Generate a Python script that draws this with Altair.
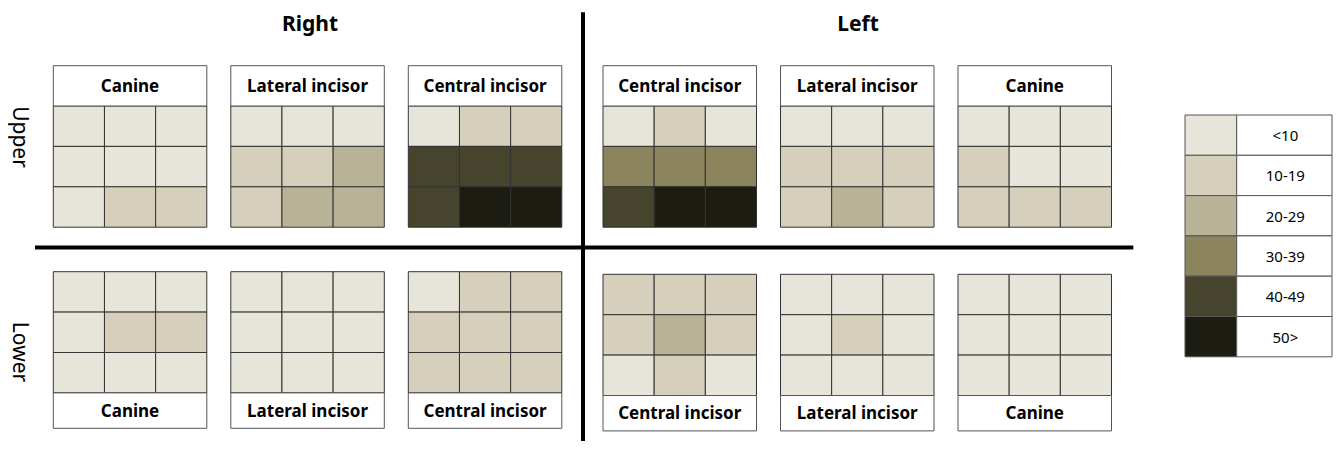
import altair as alt
import pandas as pd

# ---- data ----
classes = ["<10", "10-19", "20-29", "30-39", "40-49", "50>"]
colors = ["#E7E5D9", "#D5CFBC", "#B8B396", "#8C845C", "#46442C", "#1C1C12"]

sides = ["Right", "Left"]
jaws = ["Upper", "Lower"]
teeth_right = ["Canine", "Lateral incisor", "Central incisor"]
teeth_left = ["Central incisor", "Lateral incisor", "Canine"]

# class index for each 3x3 grid (rows top->bottom)
upper_right_canine = [[0, 0, 0], [0, 0, 0], [0, 1, 1]]
upper_right_lateral = [[0, 0, 0], [1, 1, 2], [1, 2, 2]]
upper_right_central = [[0, 1, 1], [4, 4, 4], [4, 5, 5]]
upper_left_central = [[0, 1, 0], [3, 3, 3], [4, 5, 5]]
upper_left_lateral = [[0, 0, 0], [1, 1, 1], [1, 2, 1]]
upper_left_canine = [[0, 0, 0], [1, 0, 0], [1, 1, 1]]
lower_right_canine = [[0, 0, 0], [0, 1, 1], [0, 0, 0]]
lower_right_lateral = [[0, 0, 0], [0, 0, 0], [0, 0, 0]]
lower_right_central = [[0, 1, 1], [1, 1, 1], [1, 1, 1]]
lower_left_central = [[1, 1, 1], [1, 2, 1], [0, 1, 0]]
lower_left_lateral = [[0, 0, 0], [0, 1, 0], [0, 0, 0]]
lower_left_canine = [[0, 0, 0], [0, 0, 0], [0, 0, 0]]

grids = {
    ("Upper", "Right"): [upper_right_canine, upper_right_lateral, upper_right_central],
    ("Upper", "Left"): [upper_left_central, upper_left_lateral, upper_left_canine],
    ("Lower", "Right"): [lower_right_canine, lower_right_lateral, lower_right_central],
    ("Lower", "Left"): [lower_left_central, lower_left_lateral, lower_left_canine],
}
names = {"Right": teeth_right, "Left": teeth_left}

# ---- layout (page pixel coordinates) ----
W, H = 1325, 433
group_x = {"Right": 53.3, "Left": 603}
pstep, pw = 177.5, 153.5
cw = pw / 3
ch = 40.4
lab_h = {"Upper": 40.3, "Lower": 35.4}
grid_top = {("Upper", "Right"): 106, ("Upper", "Left"): 106,
            ("Lower", "Right"): 271.7, ("Lower", "Left"): 274.3}

cells, labels = [], []
for jaw in jaws:
    for side in sides:
        for i, g in enumerate(grids[(jaw, side)]):
            x0 = group_x[side] + i * pstep
            y0 = grid_top[(jaw, side)]
            for r in range(3):
                for c in range(3):
                    cells.append(dict(x=x0 + c * cw, x2=x0 + (c + 1) * cw,
                                      y=y0 + r * ch, y2=y0 + (r + 1) * ch,
                                      cls=classes[g[r][c]]))
            if jaw == "Upper":
                ly, ly2 = y0 - lab_h[jaw], y0
            else:
                ly, ly2 = y0 + 3 * ch, y0 + 3 * ch + lab_h[jaw]
            labels.append(dict(x=x0, x2=x0 + pw, y=ly, y2=ly2,
                               xc=x0 + pw / 2, yc=(ly + ly2) / 2 + 1,
                               name=names[side][i]))
cells = pd.DataFrame(cells)
labels = pd.DataFrame(labels)

leg_x0, leg_x1, leg_x2 = 1185, 1236.7, 1332
leg_y0, leg_h = 115, 40.3
legend = pd.DataFrame([dict(x=leg_x0, x2=leg_x1, lx=leg_x1, lx2=leg_x2,
                            y=leg_y0 + k * leg_h, y2=leg_y0 + (k + 1) * leg_h,
                            yc=leg_y0 + (k + 0.5) * leg_h + 1, xc=(leg_x1 + leg_x2) / 2 + 1,
                            cls=cl) for k, cl in enumerate(classes)])

titles = pd.DataFrame([dict(x=310, y=25, t="Right"), dict(x=858, y=25, t="Left")])
jawlab = pd.DataFrame([dict(x=8.5, y=137, t="Upper"), dict(x=8.5, y=352, t="Lower")])
lines = pd.DataFrame([dict(x=583, x2=583, y=12.3, y2=441), dict(x=35, x2=1133.3, y=247.5, y2=247.5)])

xs = alt.Scale(domain=[8, 8 + W], range=[0, W], nice=False, zero=False)
ys = alt.Scale(domain=[8, 8 + H], range=[0, H], nice=False, zero=False)
X = lambda f: alt.X(f, type="quantitative", scale=xs, axis=None)
Y = lambda f: alt.Y(f, type="quantitative", scale=ys, axis=None)
cscale = alt.Scale(domain=classes, range=colors)

cell_layer = alt.Chart(cells).mark_rect(stroke="#333333", strokeWidth=1).encode(
    x=X("x"), x2="x2", y=Y("y"), y2="y2",
    color=alt.Color("cls:N", scale=cscale, legend=None))
lab_box = alt.Chart(labels).mark_rect(fill="white", stroke="#555555", strokeWidth=1).encode(
    x=X("x"), x2="x2", y=Y("y"), y2="y2")
lab_txt = alt.Chart(labels).mark_text(font="Noto Sans", fontSize=17, fontWeight="bold",
                                      color="black", baseline="middle").encode(
    x=X("xc"), y=Y("yc"), text="name:N")
leg_col = alt.Chart(legend).mark_rect(stroke="#555555", strokeWidth=1).encode(
    x=X("x"), x2="x2", y=Y("y"), y2="y2",
    color=alt.Color("cls:N", scale=cscale, legend=None))
leg_box = alt.Chart(legend).mark_rect(fill="white", stroke="#555555", strokeWidth=1).encode(
    x=X("lx"), x2="lx2", y=Y("y"), y2="y2")
leg_txt = alt.Chart(legend).mark_text(font="Noto Sans", fontSize=15, color="black",
                                      baseline="middle").encode(
    x=X("xc"), y=Y("yc"), text="cls:N")
title_txt = alt.Chart(titles).mark_text(font="Noto Sans", fontSize=21, fontWeight="bold",
                                        color="black", baseline="middle").encode(
    x=X("x"), y=Y("y"), text="t:N")
jaw_txt = alt.Chart(jawlab).mark_text(font="Noto Sans", fontSize=21, angle=90,
                                      color="black", baseline="bottom").encode(
    x=X("x"), y=Y("y"), text="t:N")
rules = alt.Chart(lines).mark_rule(color="black", strokeWidth=4).encode(
    x=X("x"), x2="x2", y=Y("y"), y2="y2")

chart = alt.layer(cell_layer, lab_box, lab_txt, leg_col, leg_box, leg_txt,
                  title_txt, jaw_txt, rules).properties(
    width=W, height=H, padding=0,
    autosize=alt.AutoSizeParams(type="fit", contains="padding"),
    background="white",
).configure_view(stroke=None)

chart.save("out.html", embed_options={"renderer": "svg", "actions": False})
